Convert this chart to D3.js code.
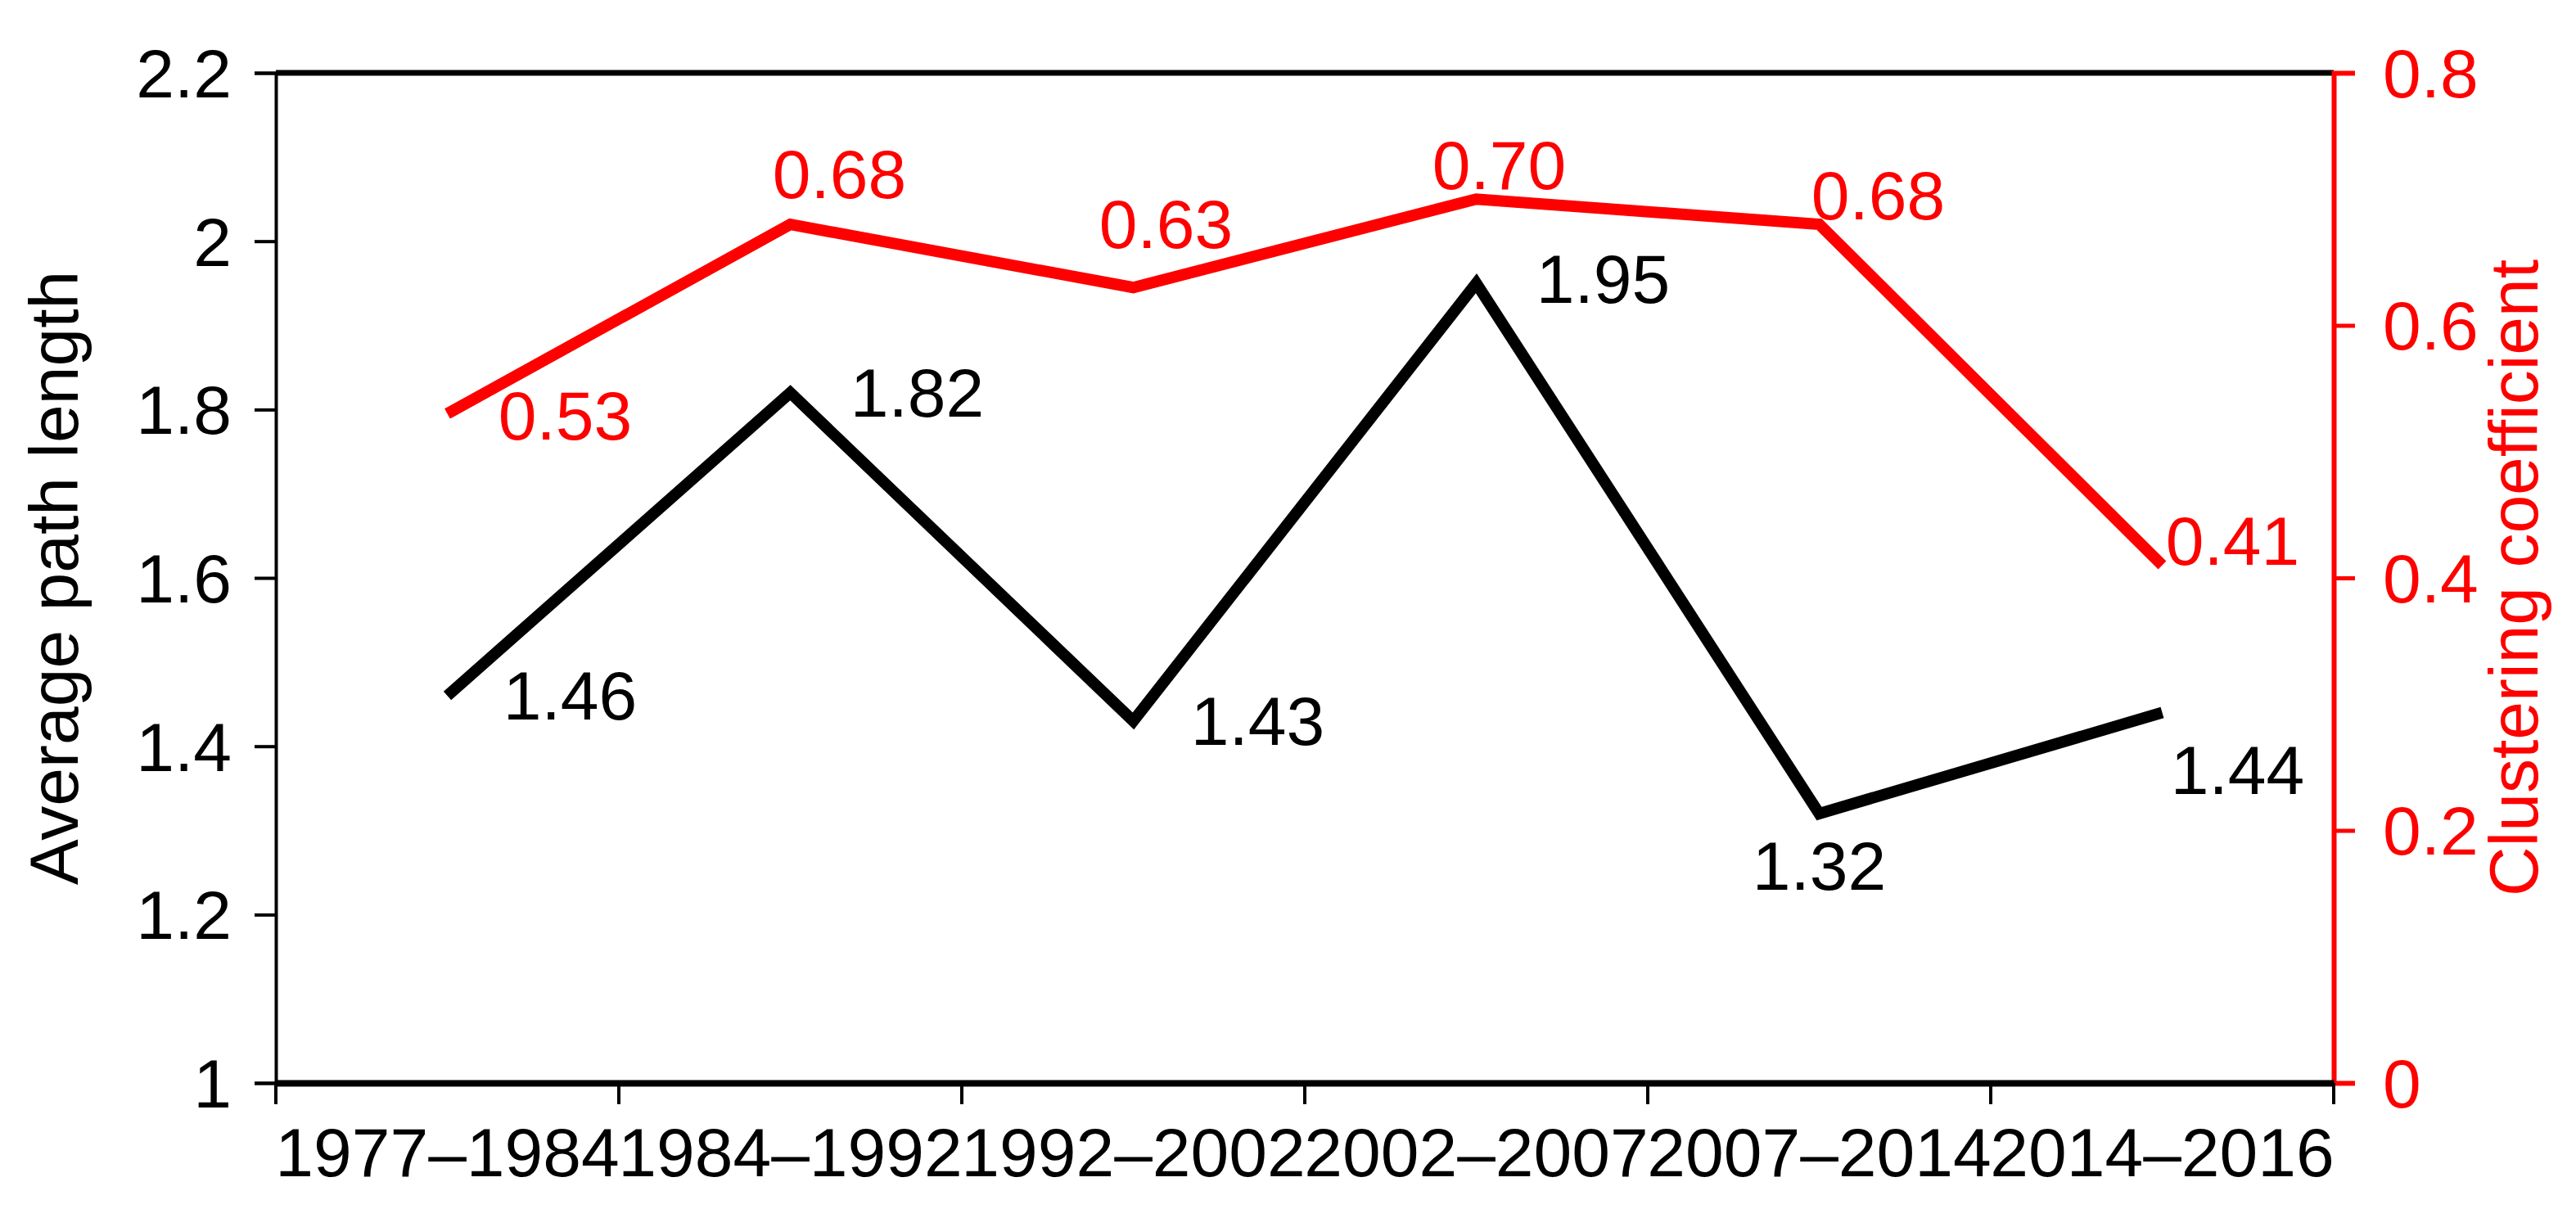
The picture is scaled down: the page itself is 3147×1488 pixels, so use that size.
<!DOCTYPE html>
<html><head><meta charset="utf-8">
<script src="https://cdn.jsdelivr.net/npm/d3@7"></script>
<style>body{margin:0;background:#fff}text{font-family:"Liberation Sans",Arial,sans-serif}</style>
</head><body>
<script>
const periods = ["1977–1984","1984–1992","1992–2002","2002–2007","2007–2014","2014–2016"];
const pathLength = [1.46, 1.82, 1.43, 1.95, 1.32, 1.44];
const clustering = [0.53, 0.68, 0.63, 0.70, 0.68, 0.41];
const leftTicks = [1, 1.2, 1.4, 1.6, 1.8, 2, 2.2];
const rightTicks = [0, 0.2, 0.4, 0.6, 0.8];
// label offsets (px) from each point
const blackOff = [[150,0],[155,0],[152,0],[155,-5],[0,64],[92,70]];
const redOff = [[144,2],[60,-62],[40,-78],[28,-42],[72,-36],[86,-30]];

const W = 3147, H = 1488;
const m = {l:337, r:2851, t:89, b:1323};
const fs = 84;

const svg = d3.select("body").append("svg").attr("width", W).attr("height", H);

const x = d3.scaleBand().domain(periods).range([m.l, m.r]);
const yL = d3.scaleLinear().domain([1, 2.2]).range([m.b, m.t]);
const yR = d3.scaleLinear().domain([0, 0.8]).range([m.b, m.t]);
const cx = d => x(d) + x.bandwidth() / 2;

// top frame
svg.append("line").attr("x1", m.l).attr("x2", m.r).attr("y1", m.t).attr("y2", m.t)
  .attr("stroke", "#000").attr("stroke-width", 7);

const gl = svg.append("g").attr("transform", `translate(${m.l},0)`)
  .call(d3.axisLeft(yL).tickValues(leftTicks).tickSize(26).tickPadding(28).tickFormat(d3.format("")));
gl.select(".domain").attr("stroke-width", 4);
gl.selectAll(".tick line").attr("stroke-width", 4);
gl.selectAll("text").attr("font-size", fs).attr("dy", "0.35em").style("font-family", "Liberation Sans");

const gr = svg.append("g").attr("transform", `translate(${m.r},0)`)
  .call(d3.axisRight(yR).tickValues(rightTicks).tickSize(26).tickPadding(34).tickFormat(d3.format("")));
gr.select(".domain").attr("stroke", "red").attr("stroke-width", 6);
gr.selectAll(".tick line").attr("stroke", "red").attr("stroke-width", 5);
gr.selectAll("text").attr("fill", "red").attr("font-size", fs).attr("dy", "0.35em").style("font-family", "Liberation Sans");

const gb = svg.append("g").attr("transform", `translate(0,${m.b})`)
  .call(d3.axisBottom(x).tickSize(0).tickPadding(64));
gb.select(".domain").attr("stroke-width", 8);
gb.selectAll("text").attr("font-size", fs).attr("dy", "0.6em").style("font-family", "Liberation Sans");
const edges = d3.range(periods.length + 1).map(i => m.l + i * x.bandwidth());
svg.append("g").selectAll("line").data(edges).join("line")
  .attr("x1", d => d).attr("x2", d => d).attr("y1", m.b).attr("y2", m.b + 26)
  .attr("stroke", "#000").attr("stroke-width", 4);

const line = (yS) => d3.line().x((d, i) => cx(periods[i])).y(d => yS(d));
svg.append("path").datum(clustering).attr("d", line(yR))
  .attr("fill", "none").attr("stroke", "red").attr("stroke-width", 14);
svg.append("path").datum(pathLength).attr("d", line(yL))
  .attr("fill", "none").attr("stroke", "#000").attr("stroke-width", 14);

svg.append("g").selectAll("text").data(pathLength).join("text")
  .attr("x", (d, i) => cx(periods[i]) + blackOff[i][0])
  .attr("y", (d, i) => yL(d) + blackOff[i][1])
  .attr("dy", "0.35em").attr("text-anchor", "middle").attr("font-size", fs)
  .text(d => d.toFixed(2));
svg.append("g").selectAll("text").data(clustering).join("text")
  .attr("x", (d, i) => cx(periods[i]) + redOff[i][0])
  .attr("y", (d, i) => yR(d) + redOff[i][1])
  .attr("dy", "0.35em").attr("text-anchor", "middle").attr("font-size", fs).attr("fill", "red")
  .text(d => d.toFixed(2));

svg.append("text").attr("transform", `translate(95,${(m.t + m.b) / 2}) rotate(-90)`)
  .attr("text-anchor", "middle").attr("font-size", fs).text("Average path length");
svg.append("text").attr("transform", `translate(3100,${(m.t + m.b) / 2}) rotate(-90)`)
  .attr("text-anchor", "middle").attr("font-size", fs).attr("fill", "red").text("Clustering coefficient");
</script>
</body></html>
